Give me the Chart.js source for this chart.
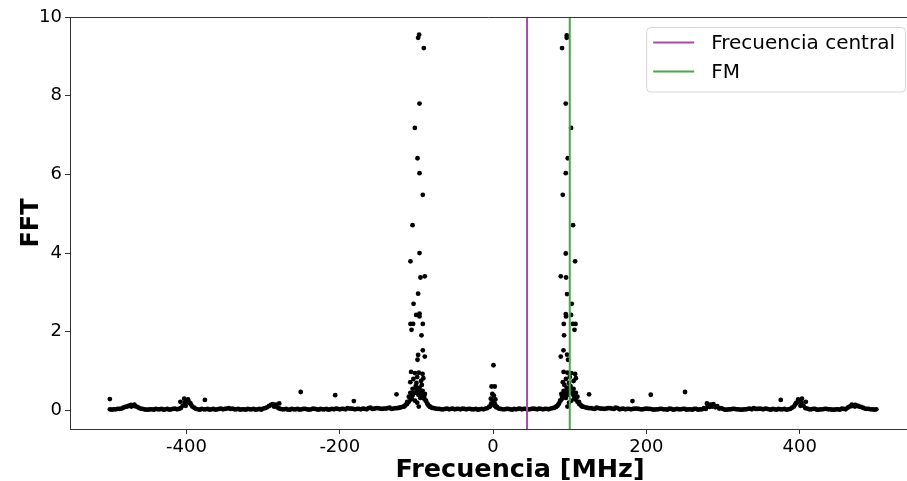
<!DOCTYPE html>
<html><head><meta charset="utf-8">
<script src="https://cdn.jsdelivr.net/npm/chart.js@4/dist/chart.umd.min.js"></script>
<style>html,body{margin:0;padding:0;background:#fff;overflow:hidden}canvas{display:block}</style>
</head><body>
<canvas id="c" width="907" height="481"></canvas>
<script>
// ---- data ----
const baseFreq = [
-500,-495,-490,-485,-480,-475,-470,-465,-460,-455,
-450,-445,-440,-435,-430,-425,-420,-415,-410,-405,
-400,-395,-390,-385,-380,-375,-370,-365,-360,-355,
-350,-345,-340,-335,-330,-325,-320,-315,-310,-305,
-300,-295,-290,-285,-280,-275,-270,-265,-260,-255,
-250,-245,-240,-235,-230,-225,-220,-215,-210,-205,
-200,-195,-190,-185,-180,-175,-170,-165,-160,-155,
-150,-145,-140,-135,-130,-125,-120,-115,-110,-105,
-100,-95,-90,-85,-80,-75,-70,-65,-60,-55,
-50,-45,-40,-35,-30,-25,-20,-15,-10,-5,
0,5,10,15,20,25,30,35,40,45,
50,55,60,65,70,75,80,85,90,95,
100,105,110,115,120,125,130,135,140,145,
150,155,160,165,170,175,180,185,190,195,
200,205,210,215,220,225,230,235,240,245,
250,255,260,265,270,275,280,285,290,295,
300,305,310,315,320,325,330,335,340,345,
350,355,360,365,370,375,380,385,390,395,
400,405,410,415,420,425,430,435,440,445,
450,455,460,465,470,475,480,485,490,495,
500];
const baseFFT = [
0.03,0.03,0.04,0.05,0.09,0.12,0.13,0.10,0.05,0.03,
0.02,0.03,0.04,0.03,0.02,0.04,0.03,0.05,0.04,0.12,
0.24,0.18,0.07,0.03,0.04,0.03,0.02,0.04,0.03,0.05,
0.04,0.06,0.05,0.03,0.02,0.03,0.04,0.03,0.02,0.04,
0.05,0.08,0.14,0.12,0.06,0.03,0.04,0.02,0.03,0.04,
0.03,0.04,0.02,0.05,0.03,0.04,0.03,0.02,0.04,0.05,
0.03,0.04,0.06,0.05,0.03,0.04,0.05,0.03,0.07,0.05,
0.06,0.04,0.05,0.07,0.05,0.06,0.08,0.12,0.22,0.38,
0.55,0.50,0.35,0.15,0.07,0.05,0.04,0.03,0.05,0.04,
0.03,0.04,0.05,0.03,0.04,0.03,0.02,0.04,0.05,0.10,
0.25,0.09,0.04,0.03,0.04,0.02,0.03,0.05,0.04,0.03,
0.04,0.04,0.05,0.03,0.04,0.05,0.07,0.15,0.35,0.50,
0.55,0.38,0.22,0.12,0.08,0.06,0.05,0.07,0.05,0.04,
0.06,0.05,0.07,0.03,0.05,0.04,0.03,0.05,0.04,0.03,
0.05,0.04,0.02,0.03,0.04,0.03,0.05,0.02,0.04,0.03,
0.04,0.03,0.02,0.04,0.03,0.06,0.12,0.14,0.08,0.05,
0.04,0.02,0.03,0.04,0.03,0.02,0.03,0.05,0.06,0.04,
0.04,0.05,0.03,0.04,0.02,0.03,0.04,0.03,0.07,0.18,
0.24,0.12,0.05,0.03,0.04,0.02,0.03,0.04,0.03,0.02,
0.03,0.05,0.03,0.10,0.13,0.12,0.09,0.05,0.04,0.03,
0.03];
// in-between samples of the dense baseline band
const midFreq = [
-497.5,-492.5,-487.5,-482.5,-477.5,-472.5,-467.5,-462.5,-457.5,-452.5,
-447.5,-442.5,-437.5,-432.5,-427.5,-422.5,-417.5,-412.5,-407.5,-402.5,
-397.5,-392.5,-387.5,-382.5,-377.5,-372.5,-367.5,-362.5,-357.5,-352.5,
-347.5,-342.5,-337.5,-332.5,-327.5,-322.5,-317.5,-312.5,-307.5,-302.5,
-297.5,-292.5,-287.5,-282.5,-277.5,-272.5,-267.5,-262.5,-257.5,-252.5,
-247.5,-242.5,-237.5,-232.5,-227.5,-222.5,-217.5,-212.5,-207.5,-202.5,
-197.5,-192.5,-187.5,-182.5,-177.5,-172.5,-167.5,-162.5,-157.5,-152.5,
-147.5,-142.5,-137.5,-132.5,-127.5,-122.5,-117.5,-112.5,-107.5,-102.5,
-97.5,-92.5,-87.5,-82.5,-77.5,-72.5,-67.5,-62.5,-57.5,-52.5,
-47.5,-42.5,-37.5,-32.5,-27.5,-22.5,-17.5,-12.5,-7.5,-2.5,
2.5,7.5,12.5,17.5,22.5,27.5,32.5,37.5,42.5,47.5,
52.5,57.5,62.5,67.5,72.5,77.5,82.5,87.5,92.5,97.5,
102.5,107.5,112.5,117.5,122.5,127.5,132.5,137.5,142.5,147.5,
152.5,157.5,162.5,167.5,172.5,177.5,182.5,187.5,192.5,197.5,
202.5,207.5,212.5,217.5,222.5,227.5,232.5,237.5,242.5,247.5,
252.5,257.5,262.5,267.5,272.5,277.5,282.5,287.5,292.5,297.5,
302.5,307.5,312.5,317.5,322.5,327.5,332.5,337.5,342.5,347.5,
352.5,357.5,362.5,367.5,372.5,377.5,382.5,387.5,392.5,397.5,
402.5,407.5,412.5,417.5,422.5,427.5,432.5,437.5,442.5,447.5,
452.5,457.5,462.5,467.5,472.5,477.5,482.5,487.5,492.5,497.5];
const midFFT = [
0.02,0.03,0.04,0.07,0.10,0.14,0.11,0.07,0.04,0.02,
0.03,0.02,0.03,0.04,0.03,0.02,0.04,0.03,0.06,0.20,
0.22,0.10,0.04,0.02,0.03,0.04,0.03,0.02,0.04,0.03,
0.05,0.04,0.03,0.04,0.03,0.02,0.03,0.04,0.03,0.02,
0.06,0.11,0.16,0.09,0.04,0.03,0.02,0.04,0.03,0.02,
0.04,0.03,0.03,0.04,0.02,0.03,0.04,0.03,0.03,0.04,
0.04,0.03,0.05,0.04,0.04,0.03,0.04,0.06,0.04,0.06,
0.05,0.05,0.06,0.04,0.06,0.07,0.10,0.16,0.28,0.45,
0.40,0.42,0.25,0.10,0.06,0.04,0.03,0.04,0.03,0.05,
0.04,0.03,0.04,0.04,0.03,0.04,0.03,0.03,0.06,0.18,
0.16,0.05,0.03,0.04,0.03,0.04,0.04,0.03,0.04,0.03,
0.05,0.03,0.04,0.04,0.03,0.06,0.10,0.25,0.42,0.40,
0.45,0.28,0.16,0.10,0.07,0.06,0.04,0.06,0.05,0.05,
0.06,0.04,0.06,0.04,0.03,0.04,0.04,0.05,0.03,0.04,
0.04,0.03,0.03,0.04,0.03,0.02,0.04,0.03,0.03,0.04,
0.02,0.03,0.04,0.02,0.03,0.04,0.09,0.16,0.11,0.06,
0.02,0.03,0.04,0.03,0.02,0.03,0.04,0.03,0.04,0.05,
0.03,0.04,0.02,0.03,0.04,0.03,0.02,0.04,0.10,0.22,
0.20,0.06,0.03,0.04,0.02,0.03,0.04,0.03,0.02,0.03,
0.02,0.04,0.07,0.11,0.14,0.10,0.07,0.04,0.03,0.02];
// peaks, bumps and isolated points
const peakFreq = [
-96.5,-97.8,-90.4,-96,-102.1,-98.6,-96,-91.7,-105.1,-96,-107.8,-94.8,-89.1,-97.8,-103.8,-100.4,-96,-96,-107.8,-104.4,-91.7,-106.4,-93.4,-91.7,-97.8,-89.1,-98.6,
-107,-102,-97,-92,-99,-104,-94,-100,-108,-91,
-110,-105,-103,-101,-98,-96,-94,-92,-90,-88,-86,-112,-114,-106,-99,-97,-95,-102,-108,-93,-89,-84,-82,-116,
96.1,96.1,90.0,94.8,101.7,97.4,94.8,90.9,104.3,94.8,107,88.3,95.2,96.5,102.6,94.8,95.2,101.7,92.2,104,107.5,106.2,92.6,91.8,96.5,88.3,97.8,
92,97,102,107,100,95,105,99,91,108,
110,105,103,101,98,96,94,92,90,88,86,112,114,106,99,97,95,102,108,93,89,84,82,116,
0.5,-2,2.2,-1,1,-3,3,0,-2,2,-4,4,
-500,-376,-251,-206,-181.7,-126,125.2,181.8,205.7,250.4,375.3,
-408,-403,-398,-394,-401,-396,396,401,394,398,403,408,
-472,-468,-476,468,472,476,
-283,-279,-286,279,283,286];
const peakFFT = [
9.55,9.47,9.21,7.80,7.18,6.41,6.03,5.48,4.71,4.00,3.79,3.38,3.41,2.97,2.71,2.43,2.46,2.39,2.20,2.20,2.20,2.05,1.91,1.53,1.41,1.37,1.29,
0.98,0.95,0.96,0.93,0.85,0.80,0.75,0.70,0.72,0.82,
0.35,0.55,0.45,0.62,0.50,0.58,0.42,0.50,0.30,0.25,0.18,0.22,0.15,0.30,0.20,0.10,0.32,0.25,0.45,0.65,0.42,0.12,0.09,0.10,
9.53,9.47,9.21,7.80,7.18,6.41,6.03,5.48,4.71,3.99,3.79,3.41,3.38,2.96,2.71,2.45,2.39,2.43,2.20,2.20,2.20,2.05,1.91,1.53,1.42,1.37,1.29,
0.98,0.96,0.95,0.93,0.85,0.80,0.75,0.70,0.72,0.82,
0.35,0.55,0.45,0.62,0.50,0.58,0.42,0.50,0.30,0.25,0.18,0.22,0.15,0.30,0.20,0.10,0.32,0.25,0.45,0.65,0.42,0.12,0.09,0.10,
1.15,0.61,0.61,0.42,0.38,0.30,0.28,0.20,0.15,0.12,0.10,0.08,
0.29,0.27,0.47,0.39,0.24,0.41,0.41,0.24,0.40,0.47,0.27,
0.22,0.30,0.28,0.15,0.12,0.20,0.20,0.12,0.15,0.28,0.30,0.22,
0.10,0.15,0.12,0.15,0.10,0.12,
0.15,0.18,0.10,0.18,0.15,0.10];
const centralFreq = 44.3;
const fmFreq = 100;
const seriesLabels = ['Frecuencia central', 'FM'];
const xTitle = 'Frecuencia [MHz]';
const yTitle = 'FFT';
const xTicks = [-400, -200, 0, 200, 400];
const yTicks = [0, 2, 4, 6, 8, 10];
const xMin = -552, xMax = 540, yMin = -0.47, yMax = 10;

// ---- build ----
const FAMILY = '"DejaVu Sans", sans-serif';
const toPts = (fs, vs) => fs.map((f, i) => ({x: f, y: vs[i]}));
const points = toPts(baseFreq, baseFFT).concat(toPts(midFreq, midFFT), toPts(peakFreq, peakFFT));
const lineColors = ['#a64ca6', '#4ca64c'];

const frame = {
  id: 'frame',
  afterDraw(chart) {
    const {ctx, chartArea: a} = chart;
    ctx.save();
    ctx.strokeStyle = '#333';
    ctx.lineWidth = 1;
    ctx.beginPath();
    ctx.moveTo(a.left, a.top + 0.5);
    ctx.lineTo(a.right, a.top + 0.5);
    ctx.stroke();
    // x axis title (placed as in the reference figure, right of the visible axis centre)
    ctx.fillStyle = '#000';
    ctx.font = 'bold 25.5px ' + FAMILY;
    ctx.textAlign = 'center';
    ctx.textBaseline = 'alphabetic';
    ctx.fillText(xTitle, a.left + 450, 476.5);
    ctx.restore();
  }
};

const boxLegend = {
  id: 'boxLegend',
  afterDraw(chart) {
    const {ctx, chartArea: a} = chart;
    const ds = chart.data.datasets.filter(d => d.isLegend);
    ctx.save();
    ctx.font = '20px ' + FAMILY;
    const tw = Math.max(...ds.map(d => ctx.measureText(d.label).width));
    const padL = 7, handle = 41, gap = 17, padR = 10, rowH = 29, padT = 15.5;
    const w = padL + handle + gap + tw + padR;
    const h = rowH * ds.length + 6.5;
    const right = a.right - 2, top = a.top + 10, left = right - w;
    ctx.beginPath();
    ctx.roundRect(left + 0.5, top + 0.5, w, h, 4);
    ctx.fillStyle = 'rgba(255,255,255,0.8)';
    ctx.fill();
    ctx.strokeStyle = '#d6d6d6';
    ctx.lineWidth = 1;
    ctx.stroke();
    ds.forEach((d, i) => {
      const cy = top + padT + i * rowH;
      ctx.strokeStyle = d.borderColor;
      ctx.lineWidth = 2;
      ctx.beginPath();
      ctx.moveTo(left + padL, cy);
      ctx.lineTo(left + padL + handle, cy);
      ctx.stroke();
      ctx.fillStyle = '#000';
      ctx.textBaseline = 'middle';
      ctx.textAlign = 'left';
      ctx.fillText(d.label, left + padL + handle + gap, cy + 1);
    });
    ctx.restore();
  }
};

new Chart(document.getElementById('c'), {
  type: 'scatter',
  data: {
    datasets: [
      {label: seriesLabels[0], isLegend: true, showLine: true,
       data: [{x: centralFreq, y: yMin}, {x: centralFreq, y: yMax}],
       borderColor: lineColors[0], borderWidth: 2, pointRadius: 0},
      {label: seriesLabels[1], isLegend: true, showLine: true,
       data: [{x: fmFreq, y: yMin}, {x: fmFreq, y: yMax}],
       borderColor: lineColors[1], borderWidth: 2, pointRadius: 0},
      {label: 'FFT', data: points, backgroundColor: '#000', borderWidth: 0, pointRadius: 2.4}
    ]
  },
  options: {
    responsive: false,
    animation: false,
    devicePixelRatio: 1,
    events: [],
    layout: {autoPadding: false, padding: {top: 17, right: 0, left: 0, bottom: 0}},
    plugins: {legend: {display: false}, tooltip: {enabled: false}},
    scales: {
      x: {
        type: 'linear', min: xMin, max: xMax,
        afterBuildTicks: s => { s.ticks = xTicks.map(v => ({value: v})); },
        afterFit: s => { s.height = 52; s.paddingRight = 0; s.paddingLeft = 0; },
        grid: {drawOnChartArea: false, drawTicks: true, tickLength: 5, color: '#333'},
        border: {display: true, color: '#333', width: 1},
        ticks: {font: {family: FAMILY, size: 18}, color: '#000', padding: 3, maxRotation: 0,
                callback: v => String(v)},
        title: {display: false}
      },
      y: {
        type: 'linear', min: yMin, max: yMax,
        afterBuildTicks: s => { s.ticks = yTicks.map(v => ({value: v})); },
        afterFit: s => { s.width = 70; s.paddingTop = 0; s.paddingBottom = 0; },
        grid: {drawOnChartArea: false, drawTicks: true, tickLength: 5, color: '#333'},
        border: {display: true, color: '#333', width: 1},
        ticks: {font: {family: FAMILY, size: 18}, color: '#000', padding: 3,
                callback: v => String(v)},
        title: {display: true, text: yTitle, color: '#000',
                font: {family: FAMILY, size: 24, weight: 'bold', lineHeight: 1.2}, padding: {top: 17, bottom: 0}}
      }
    }
  },
  plugins: [frame, boxLegend]
});
</script>
</body></html>
